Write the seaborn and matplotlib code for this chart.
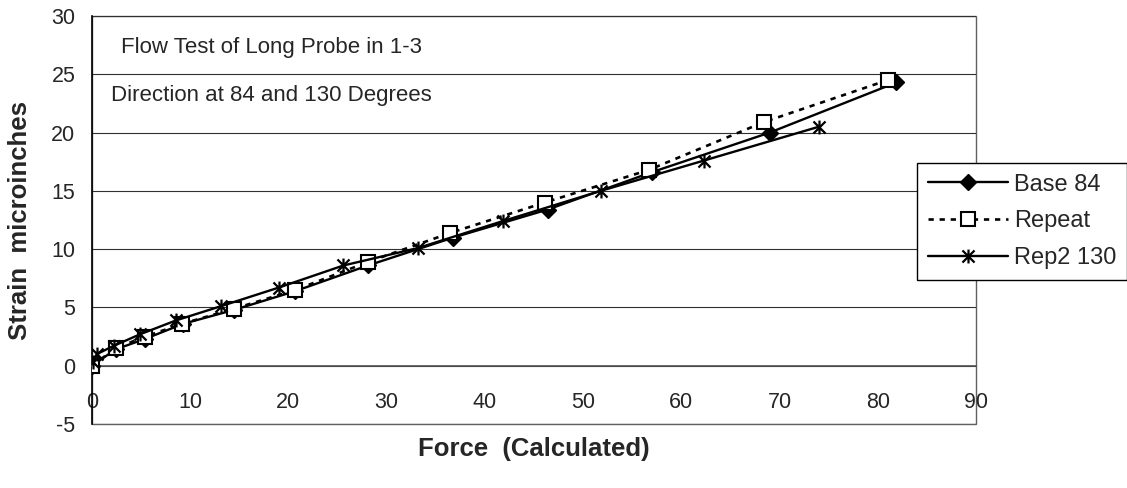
import numpy as np
import pandas as pd
import matplotlib
matplotlib.use("Agg")
import matplotlib.pyplot as plt
from matplotlib.path import Path
from matplotlib.patches import Rectangle
import seaborn as sns

# Force (calculated) vs strain readings for the three runs
base84_force = [0.0, 2.4, 5.4, 9.3, 14.5, 20.7, 28.1, 36.8, 46.4, 57.0, 69.0, 81.9]
base84_strain = [0.0, 1.4, 2.3, 3.6, 4.8, 6.4, 8.6, 11.0, 13.4, 16.6, 20.0, 24.3]

repeat_force = [0.0, 2.4, 5.4, 9.2, 14.5, 20.7, 28.1, 36.5, 46.1, 56.7, 68.4, 81.0]
repeat_strain = [0.0, 1.5, 2.5, 3.6, 4.9, 6.5, 8.9, 11.4, 14.0, 16.8, 20.9, 24.5]

rep2_force = [0.07, 0.5, 2.2, 4.9, 8.6, 13.1, 19.0, 25.6, 33.2, 41.8, 51.8, 62.3, 74.0]
rep2_strain = [0.3, 1.0, 1.7, 2.7, 3.9, 5.1, 6.7, 8.6, 10.1, 12.4, 15.0, 17.6, 20.5]

series_names = ["Base 84", "Repeat", "Rep2 130"]
x_ticks = list(range(0, 91, 10))
y_ticks = list(range(-5, 31, 5))
title_lines = ["Flow Test of Long Probe in 1-3", "Direction at 84 and 130 Degrees"]

sns.set_style("white")
plt.rcParams["font.family"] = ["Liberation Sans", "DejaVu Sans"]

fig = plt.figure(figsize=(11.27, 4.88), dpi=100)
ax = fig.add_axes([0.0816, 0.1311, 0.7844, 0.8361])

# asterisk marker: an X crossed by a vertical bar
star = Path(
    [(-1, -1), (1, 1), (-1, 1), (1, -1), (0, -1.15), (0, 1.15)],
    [Path.MOVETO, Path.LINETO, Path.MOVETO, Path.LINETO, Path.MOVETO, Path.LINETO],
)

sns.lineplot(x=base84_force, y=base84_strain, ax=ax, sort=False, estimator=None,
             color="black", lw=1.7, marker="D", markersize=8,
             markerfacecolor="black", markeredgecolor="black", markeredgewidth=1,
             label=series_names[0], zorder=3)
sns.lineplot(x=repeat_force, y=repeat_strain, ax=ax, sort=False, estimator=None,
             color="black", lw=1.9, linestyle=(0, (2.0, 2.2)), marker="s", markersize=9.5,
             markerfacecolor="white", markeredgecolor="black", markeredgewidth=1.5,
             label=series_names[1], zorder=4)
sns.lineplot(x=rep2_force, y=rep2_strain, ax=ax, sort=False, estimator=None,
             color="black", lw=1.7, marker=star, markersize=10,
             markerfacecolor="none", markeredgecolor="black", markeredgewidth=1.6,
             label=series_names[2], zorder=5)

ax.set_xlim(0, 90)
ax.set_ylim(-5, 30)
ax.set_xticks(x_ticks)
ax.set_yticks(y_ticks)
ax.set_xticklabels([str(t) for t in x_ticks])
ax.set_yticklabels([str(t) for t in y_ticks])

# horizontal gridlines, x axis crossing at zero
ax.yaxis.grid(True, color="#303030", lw=0.8)
ax.xaxis.grid(False)
ax.set_axisbelow(True)
for side in ["top", "right"]:
    ax.spines[side].set_visible(False)
ax.spines["bottom"].set_position(("data", 0))
ax.spines["bottom"].set_color("#505050")
ax.spines["bottom"].set_linewidth(1.2)
ax.spines["left"].set_color("black")
ax.spines["left"].set_linewidth(1.2)
ax.add_patch(Rectangle((0, 0), 1, 1, transform=ax.transAxes, fill=False,
                       ec="#606060", lw=1.0, zorder=0.5, clip_on=False))

ax.tick_params(axis="x", direction="out", length=6, width=1, color="#505050",
               pad=13, labelsize=15.5)
ax.tick_params(axis="y", direction="out", length=6, width=1, color="black",
               pad=6, labelsize=15.5)

ax.set_xlabel("Force  (Calculated)", fontsize=18.5, fontweight="bold", labelpad=17)
ax.set_ylabel("Strain  microinches", fontsize=18.5, fontweight="bold")
ax.yaxis.set_label_coords(-0.068, 0.5)

ax.text(0.203, 0.924, title_lines[0], transform=ax.transAxes, ha="center",
        va="center", fontsize=16)
ax.text(0.203, 0.806, title_lines[1], transform=ax.transAxes, ha="center",
        va="center", fontsize=16)

ax.get_legend().remove()
handles, labels = ax.get_legend_handles_labels()
leg = fig.legend(handles, labels, loc="upper left", bbox_to_anchor=(0.8137, 0.666),
                 fontsize=17, frameon=True, fancybox=False, framealpha=1,
                 edgecolor="black", handlelength=3.4, handletextpad=0.25,
                 labelspacing=0.62, borderpad=0.45, borderaxespad=0)
leg.get_frame().set_linewidth(1.0)

fig.savefig("out.png", dpi=100)
